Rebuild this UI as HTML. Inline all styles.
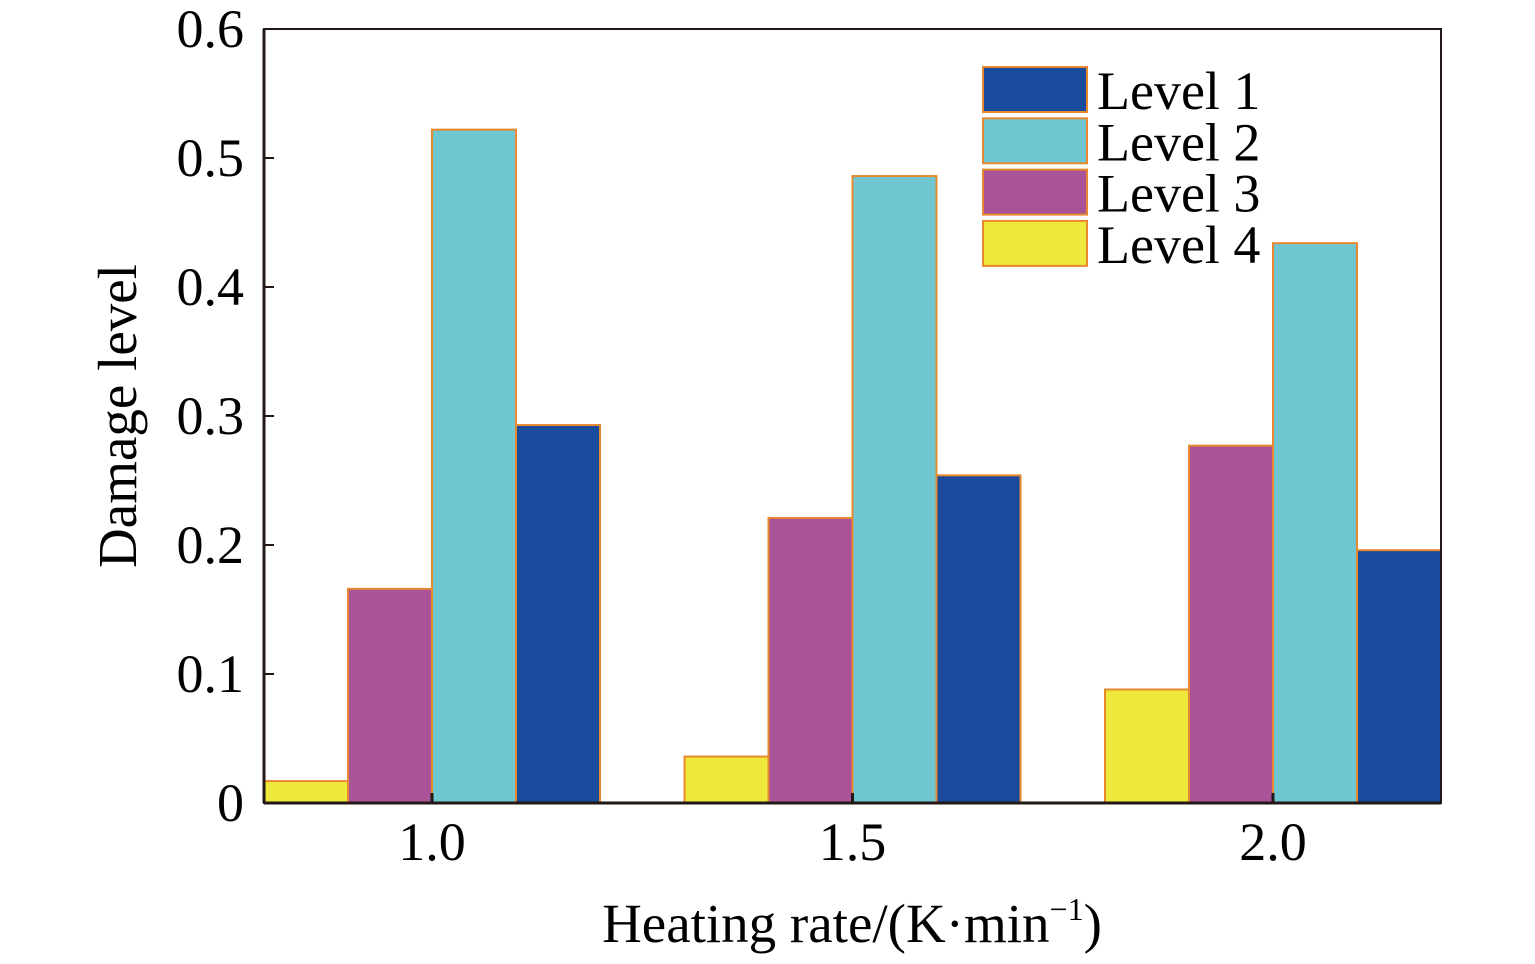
<!DOCTYPE html>
<html><head><meta charset="utf-8"><style>
html,body{margin:0;padding:0;background:#fff;}
svg text{font-family:"Liberation Serif",serif;fill:#000;}
</style></head><body>
<svg id="chart" width="1535" height="959" xmlns="http://www.w3.org/2000/svg">
<g id="bars"></g>
<g id="axes"></g>
<g id="legend"></g>
<text x="0" y="0" font-size="55" text-anchor="middle" transform="translate(136,416) rotate(-90)">Damage level</text>
<text x="852" y="942" font-size="55" text-anchor="middle">Heating rate/(K·min<tspan font-size="32" dy="-22">−1</tspan><tspan dy="22">)</tspan></text>
</svg>
<script>
const categories = [1.0, 1.5, 2.0];
const seriesNames = ["Level 4", "Level 3", "Level 2", "Level 1"];
const level4 = [0.017, 0.036, 0.088];
const level3 = [0.166, 0.221, 0.277];
const level2 = [0.522, 0.486, 0.434];
const level1 = [0.293, 0.254, 0.196];
const yTicks = [0, 0.1, 0.2, 0.3, 0.4, 0.5, 0.6];
const yTickLabels = ["0", "0.1", "0.2", "0.3", "0.4", "0.5", "0.6"];
const xTickLabels = ["1.0", "1.5", "2.0"];
const legendNames = ["Level 1", "Level 2", "Level 3", "Level 4"];

const NS = "http://www.w3.org/2000/svg";
const L = 264, R = 1441, T = 29, B = 803;
const colors = {"Level 1":"#1a4a9c","Level 2":"#6fc7d2","Level 3":"#a85496","Level 4":"#ede83a"};
function x(v){ return 432 + (v - 1) * 841; }
function y(v){ return B - v / 0.6 * (B - T); }
const barW = 84;
function mk(tag, attrs, parent){ const e = document.createElementNS(NS, tag); for (const k in attrs) e.setAttribute(k, attrs[k]); parent.appendChild(e); return e; }
const bars = document.getElementById('bars');
const series = [level4, level3, level2, level1];
categories.forEach((c, i) => {
  series.forEach((s, j) => {
    const x0 = x(c) - 2 * barW + j * barW;
    const r = mk('rect', {x: x0, y: y(s[i]), width: barW, height: B - y(s[i]), fill: colors[seriesNames[j]], stroke: "#e8892f", "stroke-width": 2}, bars);
    
    
  });
});
const axes = document.getElementById('axes');
const frame = mk('rect', {x: L, y: T, width: R - L, height: B - T, fill: "none", stroke: "#231815", "stroke-width": 2}, axes);


const xl = mk('line', {x1: L, x2: R, y1: B, y2: B, stroke: "#231815", "stroke-width": 3}, axes);


const yl = mk('line', {x1: L, x2: L, y1: T, y2: B, stroke: "#231815", "stroke-width": 3}, axes);


yTicks.forEach((t, i) => {
  const tk = mk('line', {x1: L, x2: L + 10, y1: y(t), y2: y(t), stroke: "#231815", "stroke-width": 2}, axes);
  
  
  const tx = mk('text', {x: 244, y: y(t) + 18, "font-size": 54, "text-anchor": "end"}, axes);
  tx.textContent = yTickLabels[i];
  
  
});
categories.forEach((c, i) => {
  const tk = mk('line', {x1: x(c), x2: x(c), y1: B, y2: B - 10, stroke: "#231815", "stroke-width": 3}, axes);
  
  
  const tx = mk('text', {x: x(c), y: 860, "font-size": 54, "text-anchor": "middle"}, axes);
  tx.textContent = xTickLabels[i];
  
  
});
const legend = document.getElementById('legend');
legendNames.forEach((n, i) => {
  const yy = 67 + i * 51.3;
  const sw = mk('rect', {x: 983, y: yy, width: 104, height: 45, fill: colors[n], stroke: "#e8892f", "stroke-width": 2}, legend);
  
  
  const tx = mk('text', {x: 1097, y: yy + 42, "font-size": 54}, legend);
  tx.textContent = n;
  
  
});
</script>
</body></html>
